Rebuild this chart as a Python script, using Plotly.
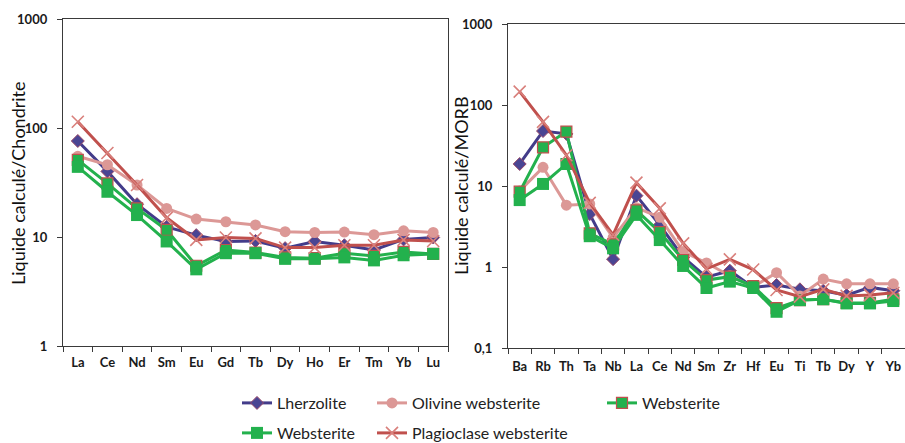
import plotly.graph_objects as go

# ---------------- data ----------------
ree = ["La", "Ce", "Nd", "Sm", "Eu", "Gd", "Tb", "Dy", "Ho", "Er", "Tm", "Yb", "Lu"]
ree_lherzolite = [76, 40, 20, 12.4, 10.4, 9.1, 9.2, 7.9, 9.1, 8.4, 7.6, 9.5, 9.9]
ree_olivine_web = [55, 46, 30, 18.3, 14.6, 13.8, 12.9, 11.2, 11.0, 11.1, 10.5, 11.4, 11.0]
ree_websterite_a = [51, 31, 18.3, 11.6, 5.45, 7.6, 7.2, 6.5, 6.4, 7.1, 6.7, 7.3, 7.0]
ree_websterite_b = [44, 26, 15.9, 9.1, 5.05, 7.1, 7.1, 6.3, 6.3, 6.5, 6.1, 6.8, 7.0]
ree_plag_web = [114, 59, 30, 15, 9.4, 9.9, 9.7, 8.0, 8.0, 8.4, 8.4, 9.4, 9.2]

spider = ["Ba", "Rb", "Th", "Ta", "Nb", "La", "Ce", "Nd", "Sm", "Zr", "Hf", "Eu", "Ti", "Tb", "Dy", "Y", "Yb"]
sp_lherzolite = [18.7, 47.7, 44, 4.5, 1.25, 7.6, 3.3, 1.32, 0.75, 0.90, 0.56, 0.60, 0.53, 0.51, 0.45, 0.56, 0.51]
sp_olivine_web = [8.7, 17, 5.8, 6.0, 2.3, 5.4, 4.1, 1.55, 1.12, 0.78, 0.57, 0.85, 0.44, 0.71, 0.62, 0.62, 0.62]
sp_websterite_a = [8.5, 30, 47, 2.6, 1.9, 5.0, 2.7, 1.22, 0.69, 0.76, 0.58, 0.31, 0.39, 0.40, 0.36, 0.36, 0.40]
sp_websterite_b = [6.7, 10.6, 18.7, 2.4, 1.7, 4.4, 2.15, 1.03, 0.55, 0.66, 0.55, 0.28, 0.39, 0.40, 0.355, 0.355, 0.38]
sp_plag_web = [146, 62, 24, 6.2, 2.5, 11.0, 5.3, 1.96, 0.95, 1.24, 0.93, 0.52, 0.43, 0.53, 0.44, 0.45, 0.48]

left_ticks = [1, 10, 100, 1000]
left_ticktext = ["1", "10", "100", "1000"]
right_ticks = [0.1, 1, 10, 100, 1000]
right_ticktext = ["0,1", "1", "10", "100", "1000"]

series_names = ["Lherzolite", "Olivine websterite", "Websterite", "Websterite", "Plagioclase websterite"]
left_values = [ree_lherzolite, ree_olivine_web, ree_websterite_a, ree_websterite_b, ree_plag_web]
right_values = [sp_lherzolite, sp_olivine_web, sp_websterite_a, sp_websterite_b, sp_plag_web]

# ---------------- styles ----------------
PURPLE = "#433c8a"
PINK = "#dc9896"
GREEN = "#23b14d"
RED = "#c0504d"

styles = [
    dict(line=dict(color=PURPLE, width=3),
         marker=dict(symbol="diamond", size=10, color="#4a4593", line=dict(color="#9a4a6a", width=1))),
    dict(line=dict(color=PINK, width=3),
         marker=dict(symbol="circle", size=11, color=PINK, line=dict(width=0))),
    dict(line=dict(color=GREEN, width=3),
         marker=dict(symbol="square", size=11, color=GREEN, line=dict(color=RED, width=1.2))),
    dict(line=dict(color=GREEN, width=3),
         marker=dict(symbol="square", size=12, color=GREEN, line=dict(width=0))),
    dict(line=dict(color=RED, width=3),
         marker=dict(symbol="x-thin", size=12, color="#d9807c", line=dict(color="#d9807c", width=1.6))),
]
legend_ids = ["legend", "legend4", "legend3", "legend2", "legend5"]

fig = go.Figure()
for i in range(5):
    fig.add_trace(go.Scatter(x=ree, y=left_values[i], mode="lines+markers", name=series_names[i],
                             xaxis="x", yaxis="y", legend=legend_ids[i], showlegend=True,
                             **styles[i]))
for i in range(5):
    fig.add_trace(go.Scatter(x=spider, y=right_values[i], mode="lines+markers", name=series_names[i],
                             xaxis="x2", yaxis="y2", showlegend=False, **styles[i]))

W, H = 905, 443
def px(x):
    return x / W
def py(y):
    return 1 - y / H

tickfont = dict(family="Lato, sans-serif", size=13, color="#1a1a1a", weight="bold")
axis_common = dict(showgrid=False, zeroline=False, showline=True, linecolor="#3a3a3a", linewidth=1.3,
                   mirror=True, ticks="outside", ticklen=5, tickcolor="#3a3a3a", tickfont=tickfont,
                   automargin=False)

leg_font = dict(family="Lato, sans-serif", size=16, color="#222222")
def leg(x, y):
    return dict(x=px(x), y=py(y), xref="container", yref="container", xanchor="left", yanchor="middle",
                font=leg_font, bgcolor="rgba(0,0,0,0)", borderwidth=0)

fig.update_layout(
    width=W, height=H,
    margin=dict(l=0, r=0, t=0, b=0, autoexpand=False),
    paper_bgcolor="white", plot_bgcolor="white",
    xaxis=dict(domain=[px(63), px(448)], range=[-0.5, 12.5], tickson="boundaries", tickangle=0,
               ticklabelstandoff=4, anchor="y", **axis_common),
    yaxis=dict(domain=[py(346), py(19)], type="log", range=[0, 3], tickvals=left_ticks,
               ticktext=left_ticktext, ticklabelstandoff=7, anchor="x", **axis_common),
    xaxis2=dict(domain=[px(508), 1.0], range=[-0.5, 16.5], tickson="boundaries", tickangle=0,
                ticklabelstandoff=6, anchor="y2", **axis_common),
    yaxis2=dict(domain=[py(348), py(24)], type="log", range=[-1, 3], tickvals=right_ticks,
                ticktext=right_ticktext, ticklabelstandoff=7, anchor="x2", **axis_common),
    legend=leg(237, 403),
    legend2=leg(237, 433),
    legend3=leg(602, 403),
    legend4=leg(372, 403),
    legend5=leg(372, 433),
    annotations=[
        dict(text="Liquide calculé/Chondrite", x=px(18), y=py(183), xref="paper", yref="paper",
             textangle=-90, showarrow=False, xanchor="center", yanchor="middle",
             font=dict(family="Lato, sans-serif", size=18, color="#111111")),
        dict(text="Liquide calculé/MORB", x=px(461), y=py(186), xref="paper", yref="paper",
             textangle=-90, showarrow=False, xanchor="center", yanchor="middle",
             font=dict(family="Lato, sans-serif", size=18, color="#111111")),
    ],
    showlegend=True,
)

fig.write_html("out.html", config={"displayModeBar": False},
               post_script="document.body.style.margin='0';document.body.style.overflow='hidden';")
